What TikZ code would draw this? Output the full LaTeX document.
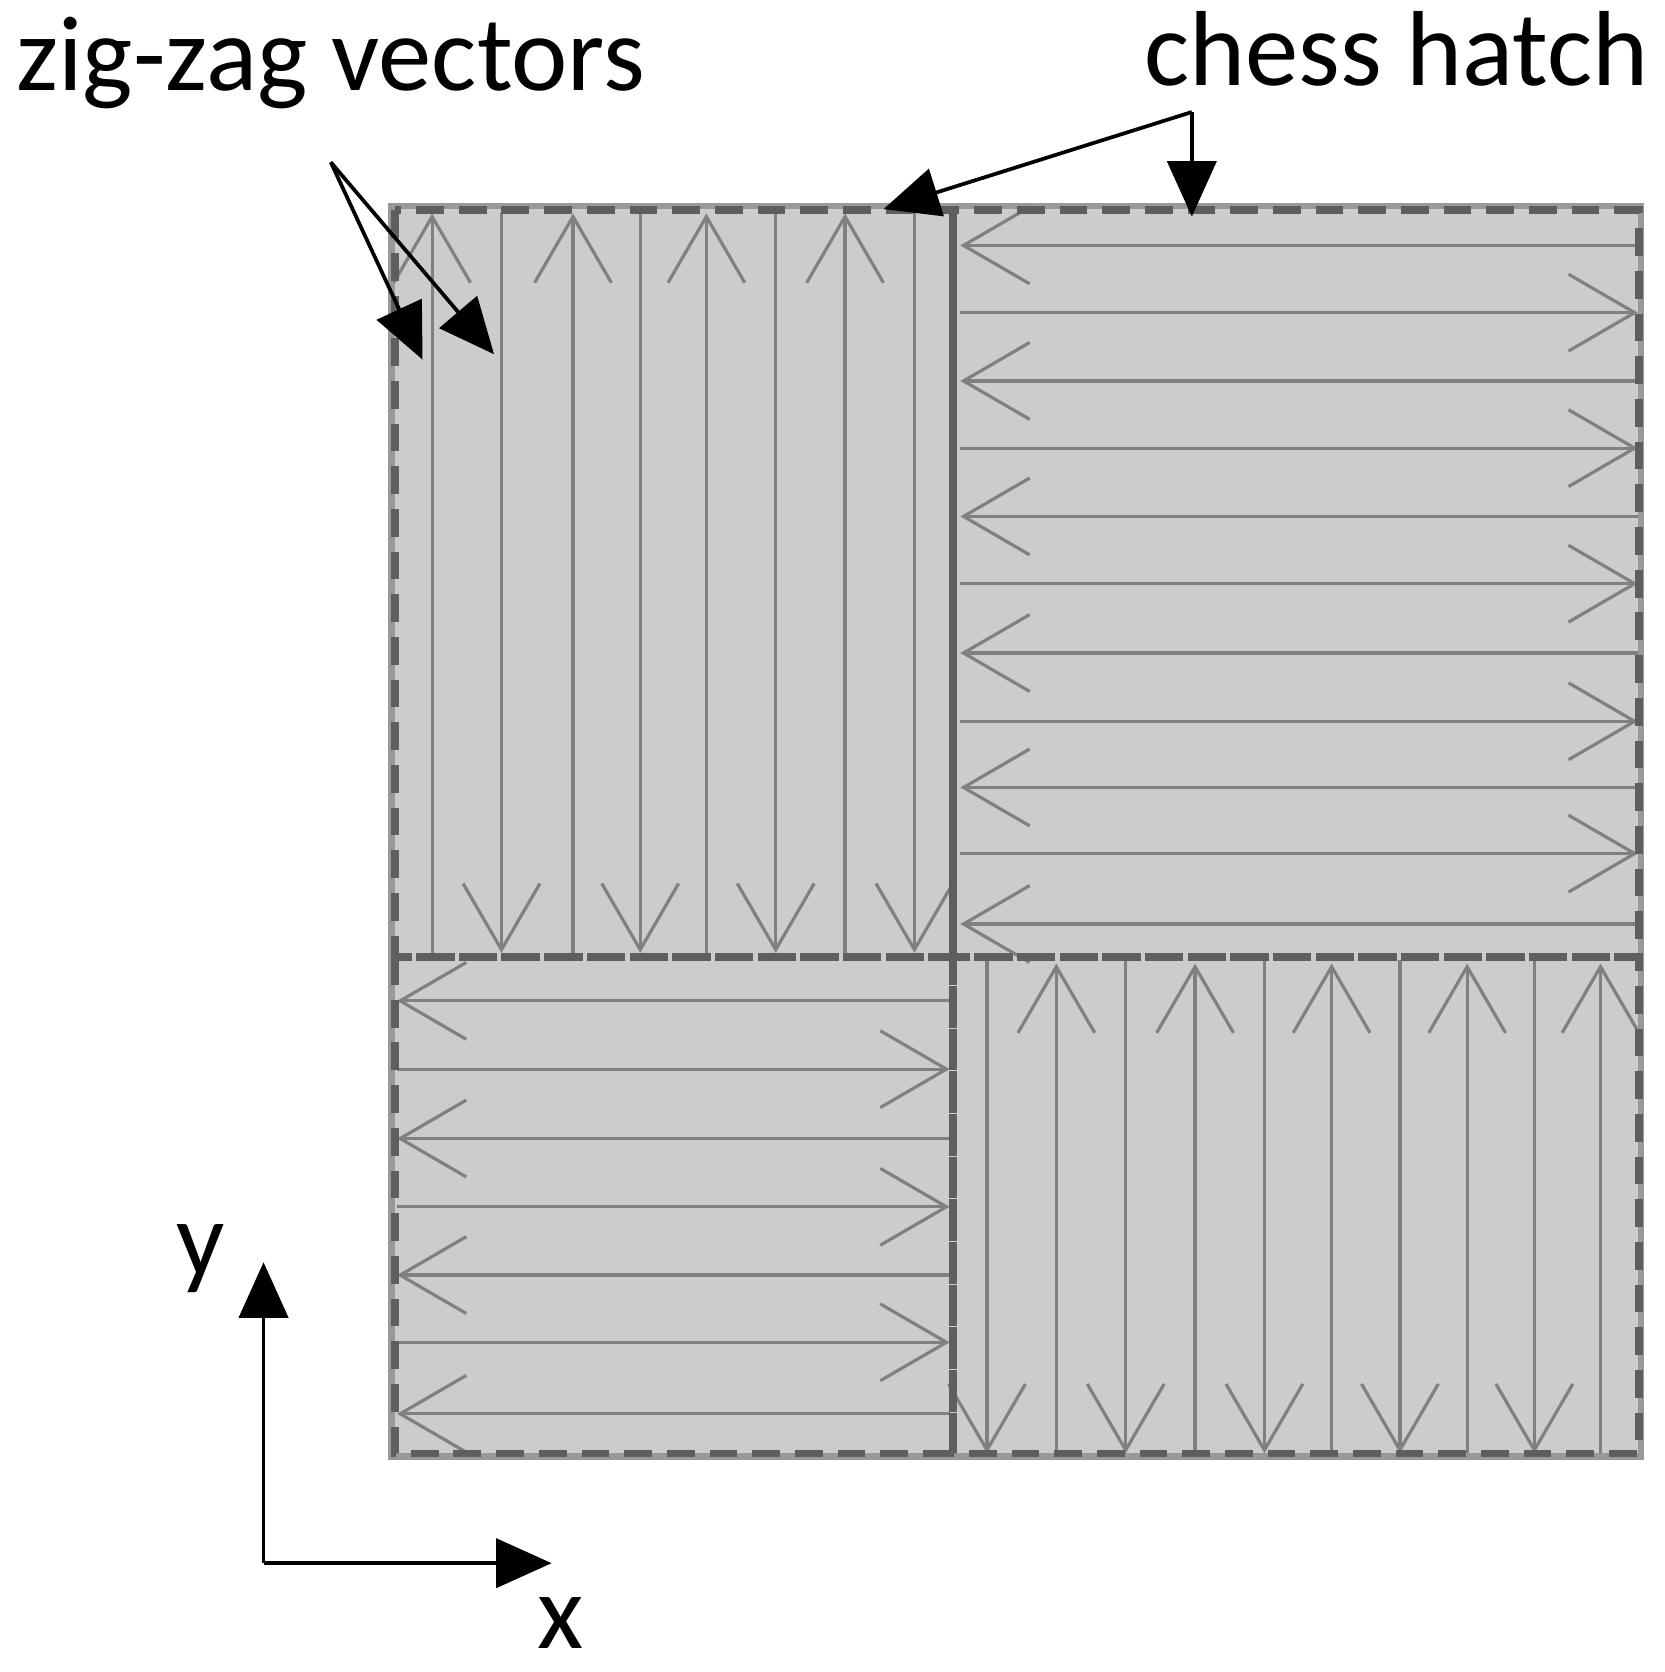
\documentclass[tikz,border=0pt]{standalone}
\usepackage{fontspec}
\setmainfont{Carlito}
\usetikzlibrary{arrows.meta}
\definecolor{fillg}{HTML}{CCCCCC}
\definecolor{edgeg}{HTML}{999999}
\definecolor{dashg}{HTML}{5E5E5E}
\definecolor{hatchg}{HTML}{808080}
\begin{document}
\begin{tikzpicture}[x=1pt,y=-1pt,
  hatch/.style={draw=hatchg,line width=3pt,-{Straight Barb[length=62pt,width=72pt,line width=3pt]}},
  quad/.style={draw=dashg,line width=7pt,dash pattern=on 26pt off 14pt},
  ann/.style={draw=black,line width=3.5pt,-{Triangle[length=52pt,width=46pt]}},
  lab/.style={font=\fontsize{100}{104}\selectfont,inner sep=0pt}]
\useasboundingbox (0,0) rectangle (1560,1567);
\fill[fillg] (367,193) rectangle (1538,1365);
\draw[edgeg,line width=6pt] (367,193) rectangle (1538,1365);
% TL
\foreach \x in {405,537,662,792} \draw[hatch] (\x,893) -- (\x,200);
\foreach \x in {470,600,727,857} \draw[hatch] (\x,200) -- (\x,893);
% TR
\foreach \y in {230,357,484,612,738,866} \draw[hatch] (1535,\y) -- (900,\y);
\foreach \y in {293,420,547,676,800} \draw[hatch] (900,\y) -- (1535,\y);
% BL
\foreach \y in {938,1067,1195,1325} \draw[hatch] (890,\y) -- (372,\y);
\foreach \y in {1002,1131,1258} \draw[hatch] (372,\y) -- (890,\y);
% BR
\foreach \x in {925,1055,1185,1312,1438} \draw[hatch] (\x,900) -- (\x,1362);
\foreach \x in {990,1120,1248,1375,1500} \draw[hatch] (\x,1362) -- (\x,903);
% dashed quadrant borders
\draw[quad] (370,197) rectangle (893,897);
\draw[quad] (893,197) rectangle (1536,897);
\draw[quad] (370,897) rectangle (893,1362);
\draw[quad] (893,897) rectangle (1536,1362);
% labels
\node[lab,anchor=base west] (zz) at (15,85) {zig-zag vectors};
\node[lab,anchor=base east] (ch) at (1545,80) {chess hatch};
\coordinate (zs) at (310,152);
\coordinate (z1) at (396,337);
\coordinate (z2) at (463,332);
\draw[ann] (zs) -- (z1);
\draw[ann] (zs) -- (z2);
\coordinate (cs) at (1117,105);
\coordinate (c1) at (828,196);
\coordinate (c2) at (1117,203);
\draw[ann] (cs) -- (c1);
\draw[ann] (cs) -- (c2);
% axes
\coordinate (o) at (247,1465);
\coordinate (ya) at (247,1183);
\coordinate (xa) at (517,1465);
\draw[ann] (o) -- (ya);
\draw[ann] (o) -- (xa);
\node[lab,anchor=base] (yl) at (188,1195) {y};
\node[lab,anchor=base] (xl) at (525,1545) {x};
\end{tikzpicture}
\end{document}
